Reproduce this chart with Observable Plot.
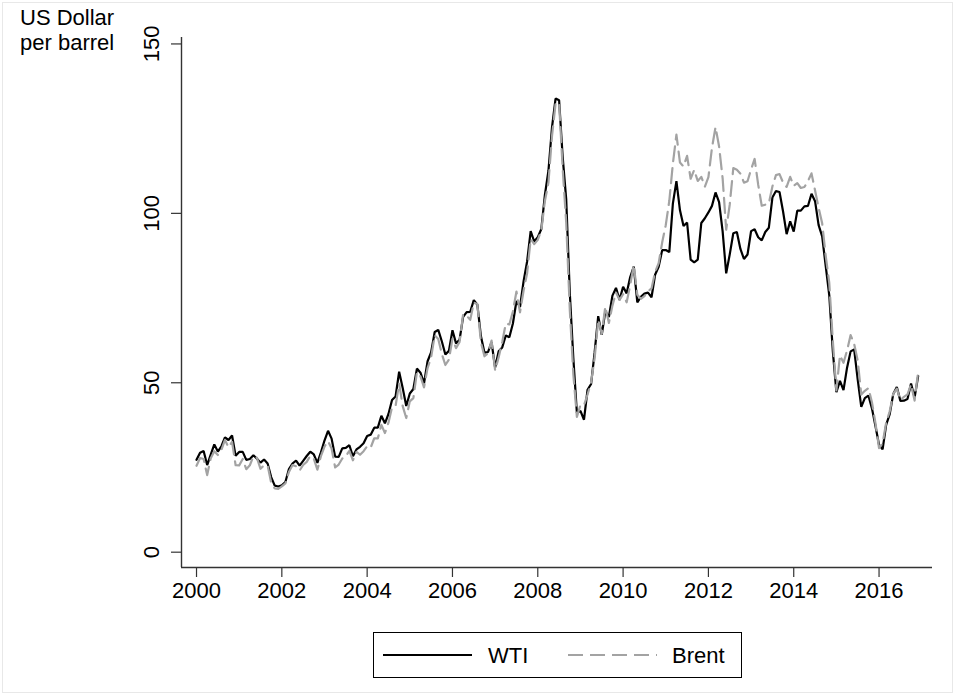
<!DOCTYPE html>
<html>
<head>
<meta charset="utf-8">
<script src="https://cdn.jsdelivr.net/npm/d3@7"></script>
<script src="https://cdn.jsdelivr.net/npm/@observablehq/plot@0.6"></script>
<style>
html, body { margin: 0; padding: 0; background: #fff; }
#wrap { position: relative; width: 955px; height: 695px; overflow: hidden; font-family: "Liberation Sans", Arial, sans-serif; color: #000; }
#border { position: absolute; left: 2px; top: 2px; width: 949px; height: 689px; border: 1px solid #e8e8e8; pointer-events: none; }
#ytitle { position: absolute; left: 20px; top: 6px; font-size: 22px; line-height: 24.8px; white-space: nowrap; }
#chart { position: absolute; left: 0; top: 0; }
#legend { position: absolute; left: 373px; top: 632px; width: 369px; height: 46px; box-sizing: border-box; border: 1px solid #000; background: #fff; }
#legend svg { position: absolute; left: 0; top: 0; }
</style>
</head>
<body>
<div id="wrap">
  <div id="border"></div>
  <div id="chart"></div>
  <div id="ytitle">US Dollar<br>per barrel</div>
  <div id="legend"></div>
</div>
<script>
// ---- Data (monthly averages, Jan 2000 – Dec 2016) ----
const startYear = 2000;
const seriesNames = ["WTI", "Brent"];
const wti = [
  27.26, 29.37, 29.84, 25.72, 28.79, 31.82, 29.70, 31.26, 33.88, 33.11, 34.42, 28.44,
  29.59, 29.61, 27.24, 27.49, 28.63, 27.60, 26.43, 27.37, 26.20, 22.17, 19.64, 19.39,
  19.72, 20.72, 24.53, 26.18, 27.04, 25.52, 26.97, 28.39, 29.66, 28.84, 26.35, 29.46,
  32.95, 35.83, 33.51, 28.17, 28.11, 30.66, 30.76, 31.57, 28.31, 30.34, 31.11, 32.13,
  34.31, 34.69, 36.74, 36.75, 40.28, 38.03, 40.78, 44.90, 45.94, 53.28, 48.47, 43.15,
  46.84, 48.15, 54.19, 52.98, 49.83, 56.35, 59.00, 64.99, 65.59, 62.26, 58.32, 59.41,
  65.49, 61.63, 62.69, 69.44, 70.84, 70.95, 74.41, 73.04, 63.80, 58.89, 59.08, 61.96,
  54.51, 59.28, 60.44, 63.98, 63.46, 67.49, 74.12, 72.36, 79.92, 85.80, 94.77, 91.69,
  92.97, 95.39, 105.45, 112.58, 125.40, 133.88, 133.37, 116.67, 104.11, 76.61, 57.31, 41.12,
  41.71, 39.09, 47.94, 49.65, 59.03, 69.64, 64.15, 71.05, 69.41, 75.72, 77.99, 74.47,
  78.33, 76.39, 81.20, 84.29, 73.74, 75.34, 76.32, 76.60, 75.24, 81.89, 84.25, 89.15,
  89.17, 88.58, 102.86, 109.53, 100.90, 96.26, 97.30, 86.33, 85.52, 86.32, 97.16, 98.56,
  100.27, 102.20, 106.16, 103.32, 94.66, 82.30, 87.90, 94.13, 94.51, 89.49, 86.53, 87.86,
  94.76, 95.31, 92.94, 92.02, 94.51, 95.77, 104.67, 106.57, 106.29, 100.54, 93.86, 97.63,
  94.62, 100.82, 100.80, 102.07, 102.18, 105.79, 103.59, 96.54, 93.21, 84.40, 75.79, 59.29,
  47.22, 50.58, 47.82, 54.45, 59.27, 59.82, 50.90, 42.87, 45.48, 46.22, 42.44, 37.19,
  31.68, 30.32, 37.55, 40.75, 46.71, 48.76, 44.65, 44.72, 45.18, 49.78, 45.66, 51.97
];
const brent = [
  25.51, 27.78, 27.49, 22.76, 27.74, 29.80, 28.68, 30.20, 33.14, 30.96, 32.55, 25.66,
  25.62, 27.50, 24.50, 25.66, 28.31, 27.85, 24.61, 25.68, 25.62, 20.54, 18.80, 18.71,
  19.42, 20.28, 23.70, 25.73, 25.35, 24.08, 25.74, 26.65, 28.40, 27.54, 24.34, 28.33,
  31.18, 32.77, 30.61, 25.00, 25.86, 27.65, 28.35, 29.89, 27.11, 29.61, 28.75, 29.81,
  31.28, 30.86, 33.63, 33.59, 37.57, 35.18, 38.22, 42.74, 43.20, 49.78, 43.11, 39.60,
  44.51, 45.48, 53.10, 51.88, 48.65, 54.35, 57.52, 63.98, 62.91, 58.54, 55.24, 56.86,
  62.99, 60.21, 62.06, 70.26, 69.78, 68.56, 73.67, 73.23, 61.96, 57.81, 58.76, 62.47,
  53.68, 57.56, 62.05, 67.49, 67.21, 71.05, 76.93, 70.76, 77.17, 82.34, 92.41, 90.93,
  92.18, 94.99, 103.64, 109.07, 122.80, 132.32, 132.72, 113.24, 97.23, 71.58, 52.45, 39.95,
  43.44, 43.32, 46.54, 50.18, 57.30, 68.61, 64.44, 72.51, 67.65, 72.77, 76.66, 74.46,
  76.17, 73.75, 78.83, 84.82, 75.95, 74.76, 75.58, 77.04, 77.84, 82.67, 85.28, 91.45,
  96.52, 103.72, 114.64, 123.26, 114.99, 113.83, 116.97, 110.22, 112.83, 109.55, 110.77, 107.87,
  110.69, 119.33, 125.45, 119.75, 110.34, 95.16, 102.62, 113.36, 112.86, 111.71, 109.06, 109.49,
  112.96, 116.05, 108.47, 102.25, 102.56, 102.92, 107.93, 111.28, 111.60, 109.08, 107.79, 110.76,
  108.12, 108.90, 107.48, 107.76, 109.54, 111.80, 106.77, 101.61, 97.09, 87.43, 79.44, 62.34,
  47.76, 58.10, 55.89, 59.52, 64.08, 61.48, 56.56, 46.52, 47.62, 48.43, 44.27, 38.01,
  30.70, 32.18, 38.21, 41.58, 46.74, 48.25, 44.95, 45.84, 46.57, 49.52, 44.73, 53.31
];
const xTicks = [2000, 2002, 2004, 2006, 2008, 2010, 2012, 2014, 2016];
const yTicks = [0, 50, 100, 150];
const yTickLabels = ["0", "50", "100", "150"];

// ---- Build table ----
const toRows = (vals, name) => vals.map((v, i) => ({ t: startYear + i / 12, v, s: name }));
const wtiRows = toRows(wti, seriesNames[0]);
const brentRows = toRows(brent, seriesNames[1]);

const xDomain = [1999.648, 2017.253];
const yDomain = [-4.52, 151.9];
const FONT = '"Liberation Sans", Arial, sans-serif';

const chart = Plot.plot({
  width: 955,
  height: 695,
  marginLeft: 181,
  marginRight: 23,
  marginTop: 37,
  marginBottom: 128,
  x: { domain: xDomain },
  y: { domain: yDomain },
  style: { fontFamily: FONT, fontSize: "22px", color: "#000", background: "transparent", overflow: "visible" },
  marks: [
    Plot.ruleX([xDomain[0]], { stroke: "#333", strokeWidth: 1.4 }),
    Plot.ruleY([yDomain[0]], { stroke: "#333", strokeWidth: 1.4 }),
    Plot.axisX({ ticks: xTicks, tickSize: 10, tickPadding: 5, tickFormat: d => String(d), fontSize: 22, label: null, stroke: "#333", strokeWidth: 1.2 }),
    Plot.axisY({ ticks: yTicks, tickSize: 10, tickFormat: () => "", label: null, stroke: "#333", strokeWidth: 1.2 }),
    Plot.text(yTicks, { x: xDomain[0], y: d => d, text: (d, i) => yTickLabels[i], rotate: -90, dx: -30, textAnchor: "middle", lineAnchor: "middle", fontSize: 22, fill: "#000" }),
    Plot.line(wtiRows, { x: "t", y: "v", stroke: "#000", strokeWidth: 2.2, strokeLinejoin: "miter" }),
    Plot.line(brentRows, { x: "t", y: "v", stroke: "#a3a3a3", strokeWidth: 2.2, strokeDasharray: "15,7" })
  ]
});
document.getElementById("chart").appendChild(chart);

// ---- Legend ----
const ns = "http://www.w3.org/2000/svg";
const lg = document.createElementNS(ns, "svg");
lg.setAttribute("width", 367);
lg.setAttribute("height", 44);
lg.innerHTML = `
  <line x1="9" x2="98" y1="22" y2="22" stroke="#000" stroke-width="2.2"/>
  <text x="114" y="30" font-size="22" font-family='${FONT}' fill="#000">${seriesNames[0]}</text>
  <line x1="194" x2="283" y1="22" y2="22" stroke="#a3a3a3" stroke-width="2.2" stroke-dasharray="15,7"/>
  <text x="298" y="30" font-size="22" font-family='${FONT}' fill="#000">${seriesNames[1]}</text>`;
document.getElementById("legend").appendChild(lg);
</script>
</body>
</html>
